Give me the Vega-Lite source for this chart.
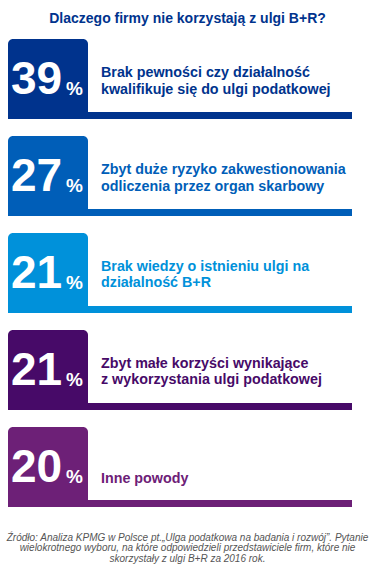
{
  "$schema": "https://vega.github.io/schema/vega-lite/v6.json",
  "width": 375,
  "height": 541,
  "autosize": {"type": "none"},
  "padding": {"top": 28, "left": 0, "right": 0, "bottom": 0},
  "background": "white",
  "config": {"view": {"stroke": null}, "font": "Liberation Sans"},
  "title": {
    "text": "Dlaczego firmy nie korzystają z ulgi B+R?",
    "font": "Liberation Sans",
    "fontSize": 14,
    "fontWeight": "bold",
    "color": "#00338D",
    "anchor": "middle",
    "baseline": "alphabetic",
    "offset": -9
  },
  "data": {
    "values": [
      {"rank": 1, "value": 39, "label": "Brak pewności czy działalność\nkwalifikuje się do ulgi podatkowej"},
      {"rank": 2, "value": 27, "label": "Zbyt duże ryzyko zakwestionowania\nodliczenia przez organ skarbowy"},
      {"rank": 3, "value": 21, "label": "Brak wiedzy o istnieniu ulgi na\ndziałalność B+R"},
      {"rank": 4, "value": 21, "label": "Zbyt małe korzyści wynikające\nz wykorzystania ulgi podatkowej"},
      {"rank": 5, "value": 20, "label": "Inne powody"}
    ]
  },
  "encoding": {
    "y": {"field": "rank", "type": "ordinal", "axis": null,
          "scale": {"domain": [1, 2, 3, 4, 5], "range": [11, 479], "paddingInner": 0.175, "paddingOuter": 0, "round": false}},
    "color": {"field": "rank", "type": "ordinal", "legend": null,
              "scale": {"domain": [1, 2, 3, 4, 5], "range": ["#00338D", "#005EB8", "#0091DA", "#470A68", "#6D2077"]}}
  },
  "layer": [
    {
      "mark": {"type": "rect", "cornerRadius": 5},
      "encoding": {
        "x": {"datum": 8, "type": "quantitative", "axis": null,
              "scale": {"domain": [0, 375], "range": [0, 375], "nice": false, "zero": false}},
        "x2": {"datum": 88}
      }
    },
    {
      "mark": {"type": "rule", "strokeWidth": 7, "strokeCap": "butt"},
      "encoding": {
        "x": {"datum": 8, "type": "quantitative", "axis": null},
        "x2": {"datum": 352},
        "y": {"field": "rank", "type": "ordinal", "bandPosition": 0.956, "axis": null},
        "stroke": {"field": "rank", "type": "ordinal", "legend": null,
                   "scale": {"domain": [1, 2, 3, 4, 5], "range": ["#00338D", "#005EB8", "#0091DA", "#470A68", "#6D2077"]}}
      }
    },
    {
      "mark": {"type": "text", "align": "left", "baseline": "alphabetic", "fontSize": 46, "fontWeight": "bold", "font": "Liberation Sans"},
      "encoding": {
        "x": {"datum": 11, "type": "quantitative", "axis": null},
        "y": {"field": "rank", "type": "ordinal", "bandPosition": 0.69, "axis": null},
        "text": {"field": "value"},
        "color": {"value": "white"}
      }
    },
    {
      "mark": {"type": "text", "align": "left", "baseline": "alphabetic", "fontSize": 19, "fontWeight": "bold", "font": "Liberation Sans"},
      "encoding": {
        "x": {"datum": 66, "type": "quantitative", "axis": null},
        "y": {"field": "rank", "type": "ordinal", "bandPosition": 0.695, "axis": null},
        "text": {"value": "%"},
        "color": {"value": "white"}
      }
    },
    {
      "transform": [{"filter": "indexof(datum.label, '\\n') >= 0"}],
      "mark": {"type": "text", "align": "left", "baseline": "alphabetic", "fontSize": 14.3, "fontWeight": "bold", "lineBreak": "\n", "lineHeight": 16.5, "font": "Liberation Sans"},
      "encoding": {
        "x": {"datum": 101, "type": "quantitative", "axis": null},
        "y": {"field": "rank", "type": "ordinal", "bandPosition": 0.475, "axis": null},
        "text": {"field": "label"}
      }
    },
    {
      "transform": [{"filter": "indexof(datum.label, '\\n') < 0"}],
      "mark": {"type": "text", "align": "left", "baseline": "alphabetic", "fontSize": 14.3, "fontWeight": "bold", "font": "Liberation Sans"},
      "encoding": {
        "x": {"datum": 101, "type": "quantitative", "axis": null},
        "y": {"field": "rank", "type": "ordinal", "bandPosition": 0.7, "axis": null},
        "text": {"field": "label"}
      }
    },
    {
      "data": {"values": [{"note": ["Źródło: Analiza KPMG w Polsce pt.„Ulga podatkowa na badania i rozwój”. Pytanie", "wielokrotnego wyboru, na które odpowiedzieli przedstawiciele firm, które nie", "skorzystały z ulgi B+R za 2016 rok."]}]},
      "mark": {"type": "text", "align": "center", "baseline": "alphabetic", "fontSize": 10, "fontStyle": "italic", "lineHeight": 10.8, "font": "Liberation Sans"},
      "encoding": {
        "x": {"datum": 187.5, "type": "quantitative", "axis": null},
        "y": {"datum": 5, "type": "ordinal", "bandPosition": 1.42, "axis": null},
        "text": {"field": "note"},
        "color": {"value": "#555555"}
      }
    }
  ]
}
